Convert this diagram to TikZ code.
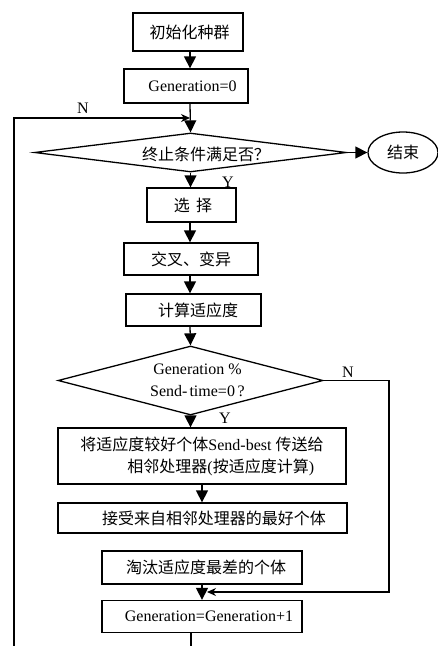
\documentclass[tikz,border=0pt]{standalone}
\usepackage{fontspec}
\setmainfont{Liberation Serif}
\newfontfamily\cjk{Noto Sans CJK SC}
\usetikzlibrary{shapes.geometric,arrows.meta}
\begin{document}
\begin{tikzpicture}[x=1pt,y=-1pt,
  every node/.style={font=\fontsize{16}{22}\selectfont},
  box/.style={draw,line width=1.3pt,rectangle,inner sep=0pt},
  dia/.style={draw,line width=1.3pt,diamond,inner sep=0pt},
  txt/.style={inner sep=0pt,align=center},
  arr/.style={line width=1.3pt,-{Triangle[length=12pt,width=12pt]}},
  arrs/.style={line width=1.3pt,-{Stealth[length=9pt,width=8pt]}},
  ln/.style={line width=1.3pt}]
\useasboundingbox (0,0) rectangle (438,646);
\coordinate (spine) at (190,0);
\coordinate (spineb) at (202,0);

\node[box,minimum width=110pt,minimum height=38pt] (init) at (188,32) {\hspace*{3pt}\cjk 初始化种群};
\node[box,minimum width=124pt,minimum height=34pt] (gen0) at (186,86) {\hspace*{13pt}Generation=0};
\node[dia,minimum width=312pt,minimum height=39pt] (d1) at (190.5,152.5) {};
\node[txt] (d1t) at (206,154) {\cjk 终止条件满足否？};
\node[draw,line width=1.3pt,ellipse,minimum width=70pt,minimum height=41pt,inner sep=0pt] (end) at (403,152.5) {\cjk 结束};
\node[box,minimum width=89pt,minimum height=34pt] (sel) at (191.5,205) {\hspace*{3pt}\cjk 选\ \,择};
\node[box,minimum width=134pt,minimum height=32pt] (cross) at (191,259) {\cjk 交叉、变异};
\node[box,minimum width=135pt,minimum height=32pt] (fit) at (193.5,310) {\hspace*{9pt}\cjk 计算适应度};
\node[dia,minimum width=265pt,minimum height=69pt] (d2) at (190.5,380.5) {};
\node[txt] (d2t) at (197.5,380) {Generation \%\\Send-\hspace{2pt}time=0\,?};
\node[box,minimum width=288pt,minimum height=56pt,align=left] (send) at (202,456) {{\cjk 将适应度较好个体}Send-best {\cjk 传送给}\\\hspace*{47pt}{\cjk 相邻处理器}({\cjk 按适应度计算})\hspace*{5pt}};
\node[box,minimum width=289pt,minimum height=30pt] (recv) at (202.5,518) {\hspace*{23pt}\cjk 接受来自相邻处理器的最好个体};
\node[box,minimum width=200pt,minimum height=33pt] (elim) at (202,567.5) {\hspace*{8pt}\cjk 淘汰适应度最差的个体};
\node[box,minimum width=200pt,minimum height=32pt] (gen1) at (202,616.5) {\hspace*{14pt}Generation=Generation+1};

\coordinate (loopbot) at (14,646);
\coordinate (loopjoin) at (190,118);
\coordinate (nright) at (389,380.5);
\coordinate (njoin) at (207,592);
\coordinate (genbot) at (191,646);

\draw[arr] (init.south -| spine) -- (gen0.north -| spine);
\draw[arr] (gen0.south -| spine) -- (d1.north);
\draw[arrs] (loopbot) |- (loopjoin);
\node[txt] (nlab1) at (83,108) {N};
\draw[arr] (d1.east) -- (end.west);
\draw[arr] (d1.south) -- (sel.north -| d1.south);
\node[txt] (ylab1) at (228,182) {Y};
\draw[arr] (sel.south -| spine) -- (cross.north -| spine);
\draw[arr] (cross.south -| spine) -- (fit.north -| spine);
\draw[arr] (fit.south -| spine) -- (d2.north);
\draw[arr] (d2.south) -- (send.north -| d2.south);
\node[txt] (ylab2) at (225,418) {Y};
\node[txt] (nlab2) at (348,372) {N};
\draw[arr] (send.south -| spineb) -- (recv.north -| spineb);
\draw[arr] (elim.south -| spineb) -- (gen1.north -| spineb);
\draw[arrs] (d2.east) -- (nright) |- (njoin);
\draw[ln] (gen1.south -| genbot) -- (genbot);
\end{tikzpicture}
\end{document}
